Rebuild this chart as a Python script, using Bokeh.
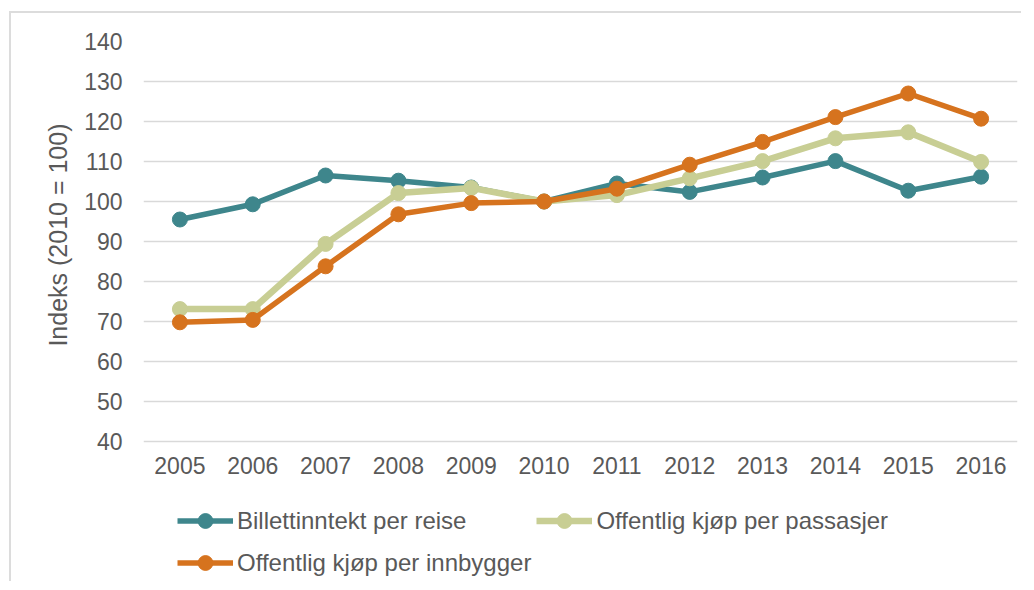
from bokeh.plotting import figure
from bokeh.models import Range1d, FactorRange, Legend, LegendItem, Title
from bokeh.embed import file_html
from bokeh.resources import INLINE

years = ["2005", "2006", "2007", "2008", "2009", "2010",
         "2011", "2012", "2013", "2014", "2015", "2016"]
billett = [95.5, 99.3, 106.5, 105.2, 103.5, 100.0, 104.5, 102.4, 106.0, 110.1, 102.7, 106.2]
kjop_passasjer = [73.1, 73.1, 89.4, 102.1, 103.4, 100.0, 101.6, 105.8, 110.1, 115.8, 117.3, 109.9]
kjop_innbygger = [69.8, 70.4, 83.8, 96.8, 99.6, 100.0, 103.2, 109.2, 114.9, 121.1, 127.0, 120.7]
y_ticks = [40, 50, 60, 70, 80, 90, 100, 110, 120, 130, 140]
y_title = "Indeks (2010 = 100)"

series = [
    ("Billettinntekt per reise", billett, "#3E868C", 5.5),
    ("Offentlig kjøp per passasjer", kjop_passasjer, "#C8CE94", 6.5),
    ("Offentlig kjøp per innbygger", kjop_innbygger, "#D6731E", 5.5),
]

TEXT = "#595959"
FONT = "Liberation Sans"

# frame extends below the value axis to host the legend (4 px per unit)
p = figure(x_range=FactorRange(*years, range_padding=0), y_range=Range1d(5, 140),
           width=1012, height=570, output_backend="svg", toolbar_location=None,
           min_border_left=132, min_border_right=6, min_border_top=28, min_border_bottom=2)
p.styles = {"margin-left": "9px", "margin-top": "11px",
            "border-left": "2px solid #DCDCDC", "border-top": "2px solid #DCDCDC"}
p.outline_line_color = None
p.background_fill_color = "white"
p.border_fill_color = "white"

items = {}
for name, vals, col, lw in series:
    r1 = p.line(years, vals, line_color=col, line_width=lw)
    r2 = p.scatter(years, vals, size=15, fill_color=col, line_color=col)
    items[name] = LegendItem(label=name, renderers=[r1, r2])

p.xgrid.grid_line_color = None
p.ygrid.grid_line_color = "#D9D9D9"
p.ygrid.grid_line_width = 1.5
p.yaxis.ticker = y_ticks
p.xaxis.fixed_location = y_ticks[0]

for ax in (p.xaxis[0], p.yaxis[0]):
    ax.axis_line_color = None
    ax.major_tick_line_color = None
    ax.minor_tick_line_color = None
    ax.major_tick_out = 0
    ax.major_tick_in = 0
    ax.major_label_text_font = FONT
    ax.major_label_text_font_size = "23px"
    ax.major_label_text_color = TEXT
p.xaxis.major_label_standoff = 15
p.yaxis.major_label_standoff = 21

title = Title(text=y_title, align="right", offset=82, standoff=20,
              text_font=FONT, text_font_size="25px", text_font_style="normal",
              text_color=TEXT)
p.add_layout(title, "left")

# legend is filled column by column: column 1 = first and third series
order = [series[0][0], series[2][0], series[1][0]]
legend = Legend(items=[items[n] for n in order], location=(34, 0), ncols=2,
                label_text_font=FONT, label_text_font_size="24px", label_text_color=TEXT,
                glyph_width=56, glyph_height=37, label_height=37, label_standoff=4,
                spacing=5, padding=0, margin=0,
                background_fill_alpha=0, border_line_color=None)
p.add_layout(legend, "center")

open("out.html", "w").write(file_html(p, INLINE))
